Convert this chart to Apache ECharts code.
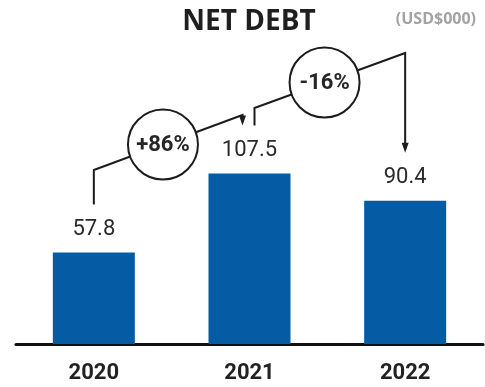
<!DOCTYPE html>
<html>
<head>
<meta charset="utf-8">
<script src="https://cdn.jsdelivr.net/npm/echarts@6/dist/echarts.min.js"></script>
<style>
  html, body { margin: 0; padding: 0; background: #fff; }
  #chart { width: 485px; height: 387px; }
</style>
</head>
<body>
<div id="chart"></div>
<script>
// Net debt by year (USD$000)
const years = ['2020', '2021', '2022'];
const netDebt = [57.8, 107.5, 90.4];
// Year-on-year change callouts between consecutive bars
const changeLabels = ['+86%', '-16%'];

const BAR_COLOR = '#055ca5';
const INK = '#1c1c1c';

const chart = echarts.init(document.getElementById('chart'), null, { renderer: 'canvas' });

chart.setOption({
  animation: false,
  grid: { left: 16, right: 2, top: 27, bottom: 43 },
  xAxis: {
    type: 'category',
    data: years,
    axisTick: { show: false },
    axisLine: { lineStyle: { color: '#111', width: 3 } },
    axisLabel: {
      margin: 18,
      fontFamily: 'Roboto',
      fontWeight: 'bold',
      fontSize: 22,
      color: '#222'
    }
  },
  yAxis: { type: 'value', min: 0, max: 200, show: false },
  series: [{
    type: 'bar',
    data: netDebt,
    barWidth: 82,
    itemStyle: { color: BAR_COLOR },
    label: {
      show: true,
      position: 'top',
      distance: 12,
      fontFamily: 'Roboto',
      fontSize: 22,
      color: '#2a2a2a',
      formatter: p => p.value.toFixed(1)
    }
  }]
});

// Callout geometry: elbow heights and diagonal rise in pixels
const callouts = [
  { from: 0, to: 1, elbowY: 170, rise: 55, startDx: 0, endDx: -7 },
  { from: 1, to: 2, elbowY: 108, rise: 55, startDx: 5, endDx: 0 }
];
const LABEL_CLEAR = 48;   // gap kept above each bar for its value label
const R = 35;

const headings = [
  { type: 'text', x: 249, y: 8, z: 5,
    style: { text: 'NET DEBT', font: 'bold 28px "Open Sans"', fill: '#1f1f1f', align: 'center' } },
  { type: 'text', x: 476, y: 11, z: 5,
    style: { text: '(USD$000)', font: 'bold 16px "Open Sans"', fill: '#a3a3a3', align: 'right' } }
];

const extra = [];
callouts.forEach((c, i) => {
  const a = chart.convertToPixel({ seriesIndex: 0 }, [c.from, netDebt[c.from]]);
  const b = chart.convertToPixel({ seriesIndex: 0 }, [c.to, netDebt[c.to]]);
  const x0 = a[0] + c.startDx;
  const y0 = a[1] - LABEL_CLEAR;
  const x1 = b[0] + c.endDx;
  const yTop = c.elbowY - c.rise;
  const yTip = b[1] - LABEL_CLEAR;
  const t = 0.465;
  const cx = x0 + (x1 - x0) * t;
  const cy = c.elbowY - c.rise * t;

  extra.push({
    type: 'polyline', z: 10,
    shape: { points: [[x0, y0], [x0, c.elbowY], [x1, yTop], [x1, yTip - 8]] },
    style: { stroke: INK, lineWidth: 2, fill: null }
  });
  extra.push({
    type: 'polygon', z: 10,
    shape: { points: [[x1 - 3.5, yTip - 10], [x1 + 3.5, yTip - 10], [x1, yTip]] },
    style: { fill: INK }
  });
  extra.push({
    type: 'circle', z: 11,
    shape: { cx: cx, cy: cy, r: R },
    style: { fill: '#fff', stroke: INK, lineWidth: 2 }
  });
  extra.push({
    type: 'text', z: 12,
    x: cx, y: cy + 1,
    style: {
      text: changeLabels[i],
      font: 'bold 22px Roboto',
      fill: '#262626',
      align: 'center',
      verticalAlign: 'middle'
    }
  });
});

chart.setOption({ graphic: headings.concat(extra) });
</script>
</body>
</html>
